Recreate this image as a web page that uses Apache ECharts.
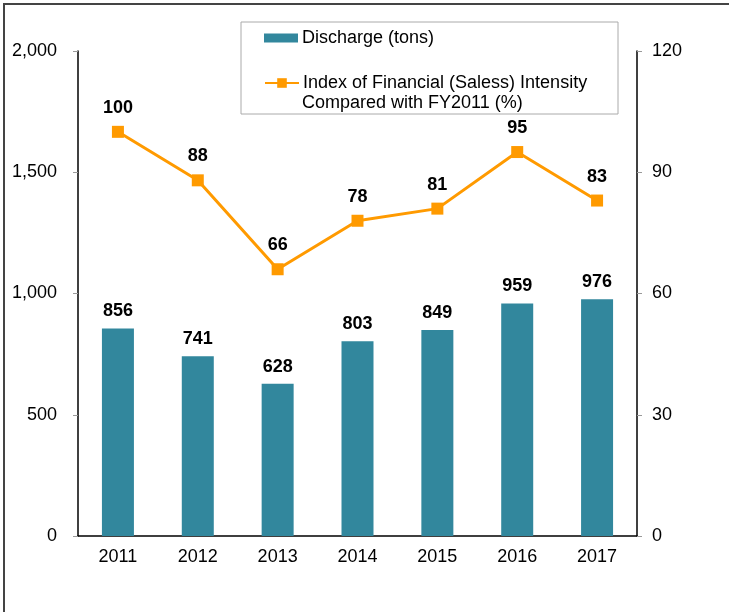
<!DOCTYPE html>
<html>
<head>
<meta charset="utf-8">
<script src="https://cdn.jsdelivr.net/npm/echarts@6/dist/echarts.min.js"></script>
<style>
  html, body { margin: 0; padding: 0; background: #fff; }
  #main { width: 729px; height: 612px; }
</style>
</head>
<body>
<div id="main"></div>
<script>
var years = ['2011', '2012', '2013', '2014', '2015', '2016', '2017'];
var discharge = [856, 741, 628, 803, 849, 959, 976];
var intensity = [100, 88, 66, 78, 81, 95, 83];
var barName = 'Discharge (tons)';
var lineName = 'Index of Financial (Saless) Intensity Compared with FY2011 (%)';

var font = 'Arial, "Liberation Sans", sans-serif';
var chart = echarts.init(document.getElementById('main'));

chart.setOption({
    backgroundColor: '#fff',
    animation: false,
    textStyle: { fontFamily: font },
    grid: { left: 78, right: 92, top: 51, bottom: 76 },
    graphic: [
        // outer frame (only left and top edges visible)
        { type: 'rect', shape: { x: 4, y: 4, width: 900, height: 800 },
          style: { fill: 'none', stroke: '#444', lineWidth: 2 }, z: 0 },
        // legend box
        { type: 'rect', shape: { x: 241, y: 22, width: 377, height: 92 },
          style: { fill: '#fff', stroke: '#aaa', lineWidth: 1 }, z: 1 },
        { type: 'text', left: 302, top: 94, z: 2,
          style: { text: 'Compared with FY2011 (%)', fill: '#000', font: '18px ' + font } }
    ],
    legend: [
        {
            data: [barName], left: 259, top: 24, itemWidth: 34, itemHeight: 9, itemGap: 4,
            icon: 'rect', z: 3,
            textStyle: { fontSize: 18, color: '#000', fontFamily: font, padding: [0, 0, 0, -1] }
        },
        {
            data: [lineName], left: 259, top: 69, itemWidth: 34, itemHeight: 12, itemGap: 4,
            z: 3,
            formatter: function () { return 'Index of Financial (Saless) Intensity'; },
            textStyle: { fontSize: 18, color: '#000', fontFamily: font, padding: [0, 0, 0, -1] }
        }
    ],
    xAxis: {
        type: 'category',
        data: years,
        axisLine: { lineStyle: { color: '#000', width: 1.5 } },
        axisTick: { inside: true, length: 5, lineStyle: { color: '#999' } },
        axisLabel: { color: '#000', fontSize: 18, margin: 12, fontFamily: font }
    },
    yAxis: [
        {
            type: 'value', min: 0, max: 2000, interval: 500,
            axisLine: { show: true, lineStyle: { color: '#000', width: 1.5 } },
            axisTick: { show: true, length: 5, lineStyle: { color: '#999' } },
            splitLine: { show: false },
            axisLabel: {
                color: '#000', fontSize: 18, margin: 21, fontFamily: font,
                formatter: function (v) { return v.toLocaleString('en-US'); }
            }
        },
        {
            type: 'value', min: 0, max: 120, interval: 30,
            axisLine: { show: true, lineStyle: { color: '#000', width: 1.5 } },
            axisTick: { show: true, length: 5, lineStyle: { color: '#999' } },
            splitLine: { show: false },
            axisLabel: { color: '#000', fontSize: 18, margin: 15, fontFamily: font }
        }
    ],
    series: [
        {
            name: barName,
            type: 'bar',
            data: discharge,
            barWidth: 32,
            itemStyle: { color: '#32879D' },
            label: {
                show: true, position: 'top', distance: 8,
                color: '#000', fontSize: 18, fontWeight: 'bold', fontFamily: font
            }
        },
        {
            name: lineName,
            type: 'line',
            yAxisIndex: 1,
            data: intensity,
            symbol: 'rect',
            symbolSize: 12,
            lineStyle: { color: '#FF9A00', width: 3 },
            itemStyle: { color: '#FF9A00' },
            label: {
                show: true, position: 'top', distance: 9,
                color: '#000', fontSize: 18, fontWeight: 'bold', fontFamily: font
            },
            z: 4
        }
    ]
});
</script>
</body>
</html>
